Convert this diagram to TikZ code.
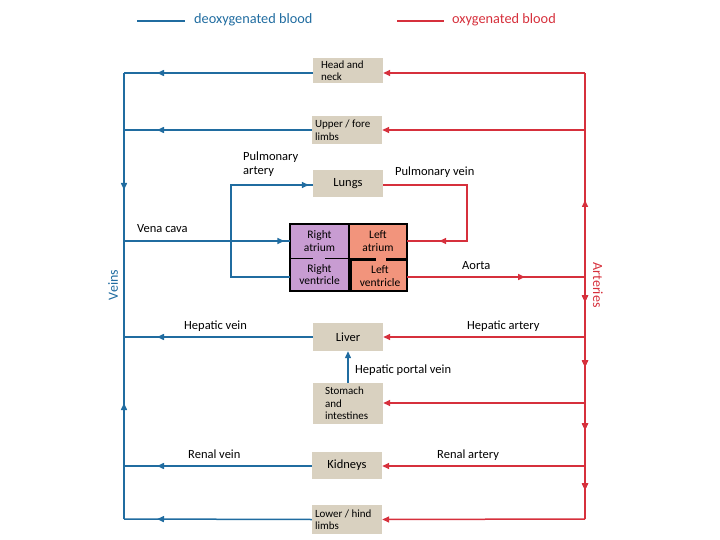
\documentclass[tikz,border=0pt]{standalone}
\usepackage{fontspec}
\setmainfont{Carlito}
\usetikzlibrary{arrows.meta,decorations.markings}
\definecolor{vein}{RGB}{32,108,160}
\definecolor{art}{RGB}{214,48,60}
\definecolor{tan}{RGB}{217,209,192}
\definecolor{rpurp}{RGB}{200,156,210}
\definecolor{lsalm}{RGB}{242,148,124}
\tikzset{
  organ/.style={fill=tan,inner ysep=0pt,inner xsep=#1,text width=70pt-2*#1,font=\fontsize{11}{12.5}\selectfont,align=flush left},
  organc/.style={fill=tan,minimum width=70pt,inner sep=0pt,font=\fontsize{12.5}{14}\selectfont,align=center},
  chamber/.style={inner sep=0pt,minimum width=58pt,align=center,font=\fontsize{11.5}{12.5}\selectfont},
  lbl/.style={font=\fontsize{12.5}{14}\selectfont,inner sep=0pt},
  vline/.style={draw=vein,line width=1.5pt},
  aline/.style={draw=art,line width=1.5pt},
  tipv/.style={-{Triangle[length=7pt,width=6pt]}},
  midtip/.style={postaction={decorate},decoration={markings,mark=at position #1 with {\arrow{Triangle[length=7pt,width=6pt]}}}},
}
\begin{document}
\begin{tikzpicture}[x=1pt,y=-1pt]
\useasboundingbox (0,0) rectangle (720,540);
% legend
\draw[vein,line width=1.5pt] (137,21) -- (185,21);
\node[anchor=west,text=vein,font=\fontsize{14.3}{16}\selectfont,inner sep=0pt] (legv) at (194,20) {deoxygenated blood};
\draw[art,line width=1.5pt] (397,21) -- (444,21);
\node[anchor=west,text=art,font=\fontsize{14.3}{16}\selectfont,inner sep=0pt] (lega) at (452,20) {oxygenated blood};

% organ boxes
\node[organ=8pt,minimum height=25pt] (head) at (348,70.5) {Head and\\neck};
\node[organ=3pt,minimum height=28pt] (upper) at (347,130) {Upper / fore\\limbs};
\node[organc,minimum height=27pt] (lungs) at (348,184) {Lungs};
\node[organc,minimum height=28pt] (liver) at (348,337) {Liver};
\node[organ=12pt,minimum height=41pt] (stom) at (348,403.5) {Stomach\\and\\intestines};
\node[organc,minimum height=27pt] (kid) at (347,465.5) {Kidneys};
\node[organ=3pt,minimum height=29pt] (lower) at (347,519.5) {Lower / hind\\limbs};

% heart
\fill[rpurp] (290,224) rectangle (349,291);
\fill[lsalm] (349,224) rectangle (407,291);
\node[chamber,minimum height=34pt] (ra) at (319.5,241) {Right\\atrium};
\node[chamber,minimum height=33pt] (rv) at (319.5,274.5) {Right\\ventricle};
\node[chamber,minimum height=34pt] (la) at (378,241) {Left\\atrium};
\node[chamber,minimum height=30pt] (lv) at (380,276) {Left\\ventricle};
\draw[line width=1.3pt] (290,224) rectangle (407,291);
\draw[line width=1.3pt] (349,224) -- (349,291);
\draw[line width=1pt] (290,258) -- (313,258) (325,258) -- (349,258);
\draw[line width=3pt] (350.5,291) -- (350.5,259.5) -- (376,259.5) (386,259.5) -- (407,259.5);

% vein main line
\coordinate (vt) at (124,73);
\coordinate (vm) at (124,241);
\coordinate (vb) at (124,519);
\draw[vline,midtip=117pt] (vt) -- (vm);
\draw[vline,midtip=116pt] (vb) -- (vm);
% venous returns
\draw[vline,midtip=-33pt] (head.west |- 0,73) -- (vt);
\draw[vline,midtip=-33pt] (upper.west |- 0,130) -- (124,130);
\draw[vline,midtip=-33pt] (liver.west) -- (124,337);
\draw[vline,midtip=-33pt] (kid.west |- 0,466) -- (124,466);
\draw[vline,midtip=-33pt] (lower.west) -- (vb);
\draw[vline,midtip=-6pt] (vm) -- (ra.west);
\draw[vline,midtip=-4pt] (rv.west |- 0,277) -- (231,277) -- (231,185) -- (lungs.west |- 0,185);
\draw[vline,tipv,line width=1.3pt] (stom.north) -- (liver.south);

% arteries
\coordinate (at) at (585,73);
\coordinate (am) at (585,277);
\coordinate (ab) at (585,519);
\draw[aline,midtip=-32pt] (lungs.east |- 0,185) -- (467,185) -- (467,241) -- (la.east);
\draw[aline,midtip=-60pt] (407,277) -- (am);
\draw[aline,midtip=77pt] (am) -- (at);
\draw[aline,midtip=25pt,midtip=90pt,midtip=153pt,midtip=213pt] (am) -- (ab);
\draw[aline,tipv] (at) -- (head.east |- 0,73);
\draw[aline,tipv] (585,130) -- (upper.east |- 0,130);
\draw[aline,tipv] (585,337) -- (liver.east);
\draw[aline,tipv] (585,403) -- (stom.east |- 0,403);
\draw[aline,tipv] (585,466) -- (kid.east |- 0,466);
\draw[aline,tipv] (ab) -- (lower.east);

% labels
\node[lbl,anchor=north west,align=left] (pa) at (243,152) {Pulmonary\\artery};
\node[lbl,anchor=west] (pv) at (395,172) {Pulmonary vein};
\node[lbl,anchor=west] (vc) at (137,229) {Vena cava};
\node[lbl,anchor=west] (ao) at (462,266) {Aorta};
\node[lbl,anchor=west] (hv) at (184,326) {Hepatic vein};
\node[lbl,anchor=west] (ha) at (467,326) {Hepatic artery};
\node[lbl,anchor=west] (hpv) at (355,370) {Hepatic portal vein};
\node[lbl,anchor=west] (rnv) at (188,454) {Renal vein};
\node[lbl,anchor=west] (rna) at (437,455) {Renal artery};
\node[lbl,text=vein,rotate=90,font=\fontsize{14}{15}\selectfont] (veins) at (113,285) {Veins};
\node[lbl,text=art,rotate=-90,font=\fontsize{14}{15}\selectfont] (arts) at (598,285) {Arteries};
\end{tikzpicture}
\end{document}
